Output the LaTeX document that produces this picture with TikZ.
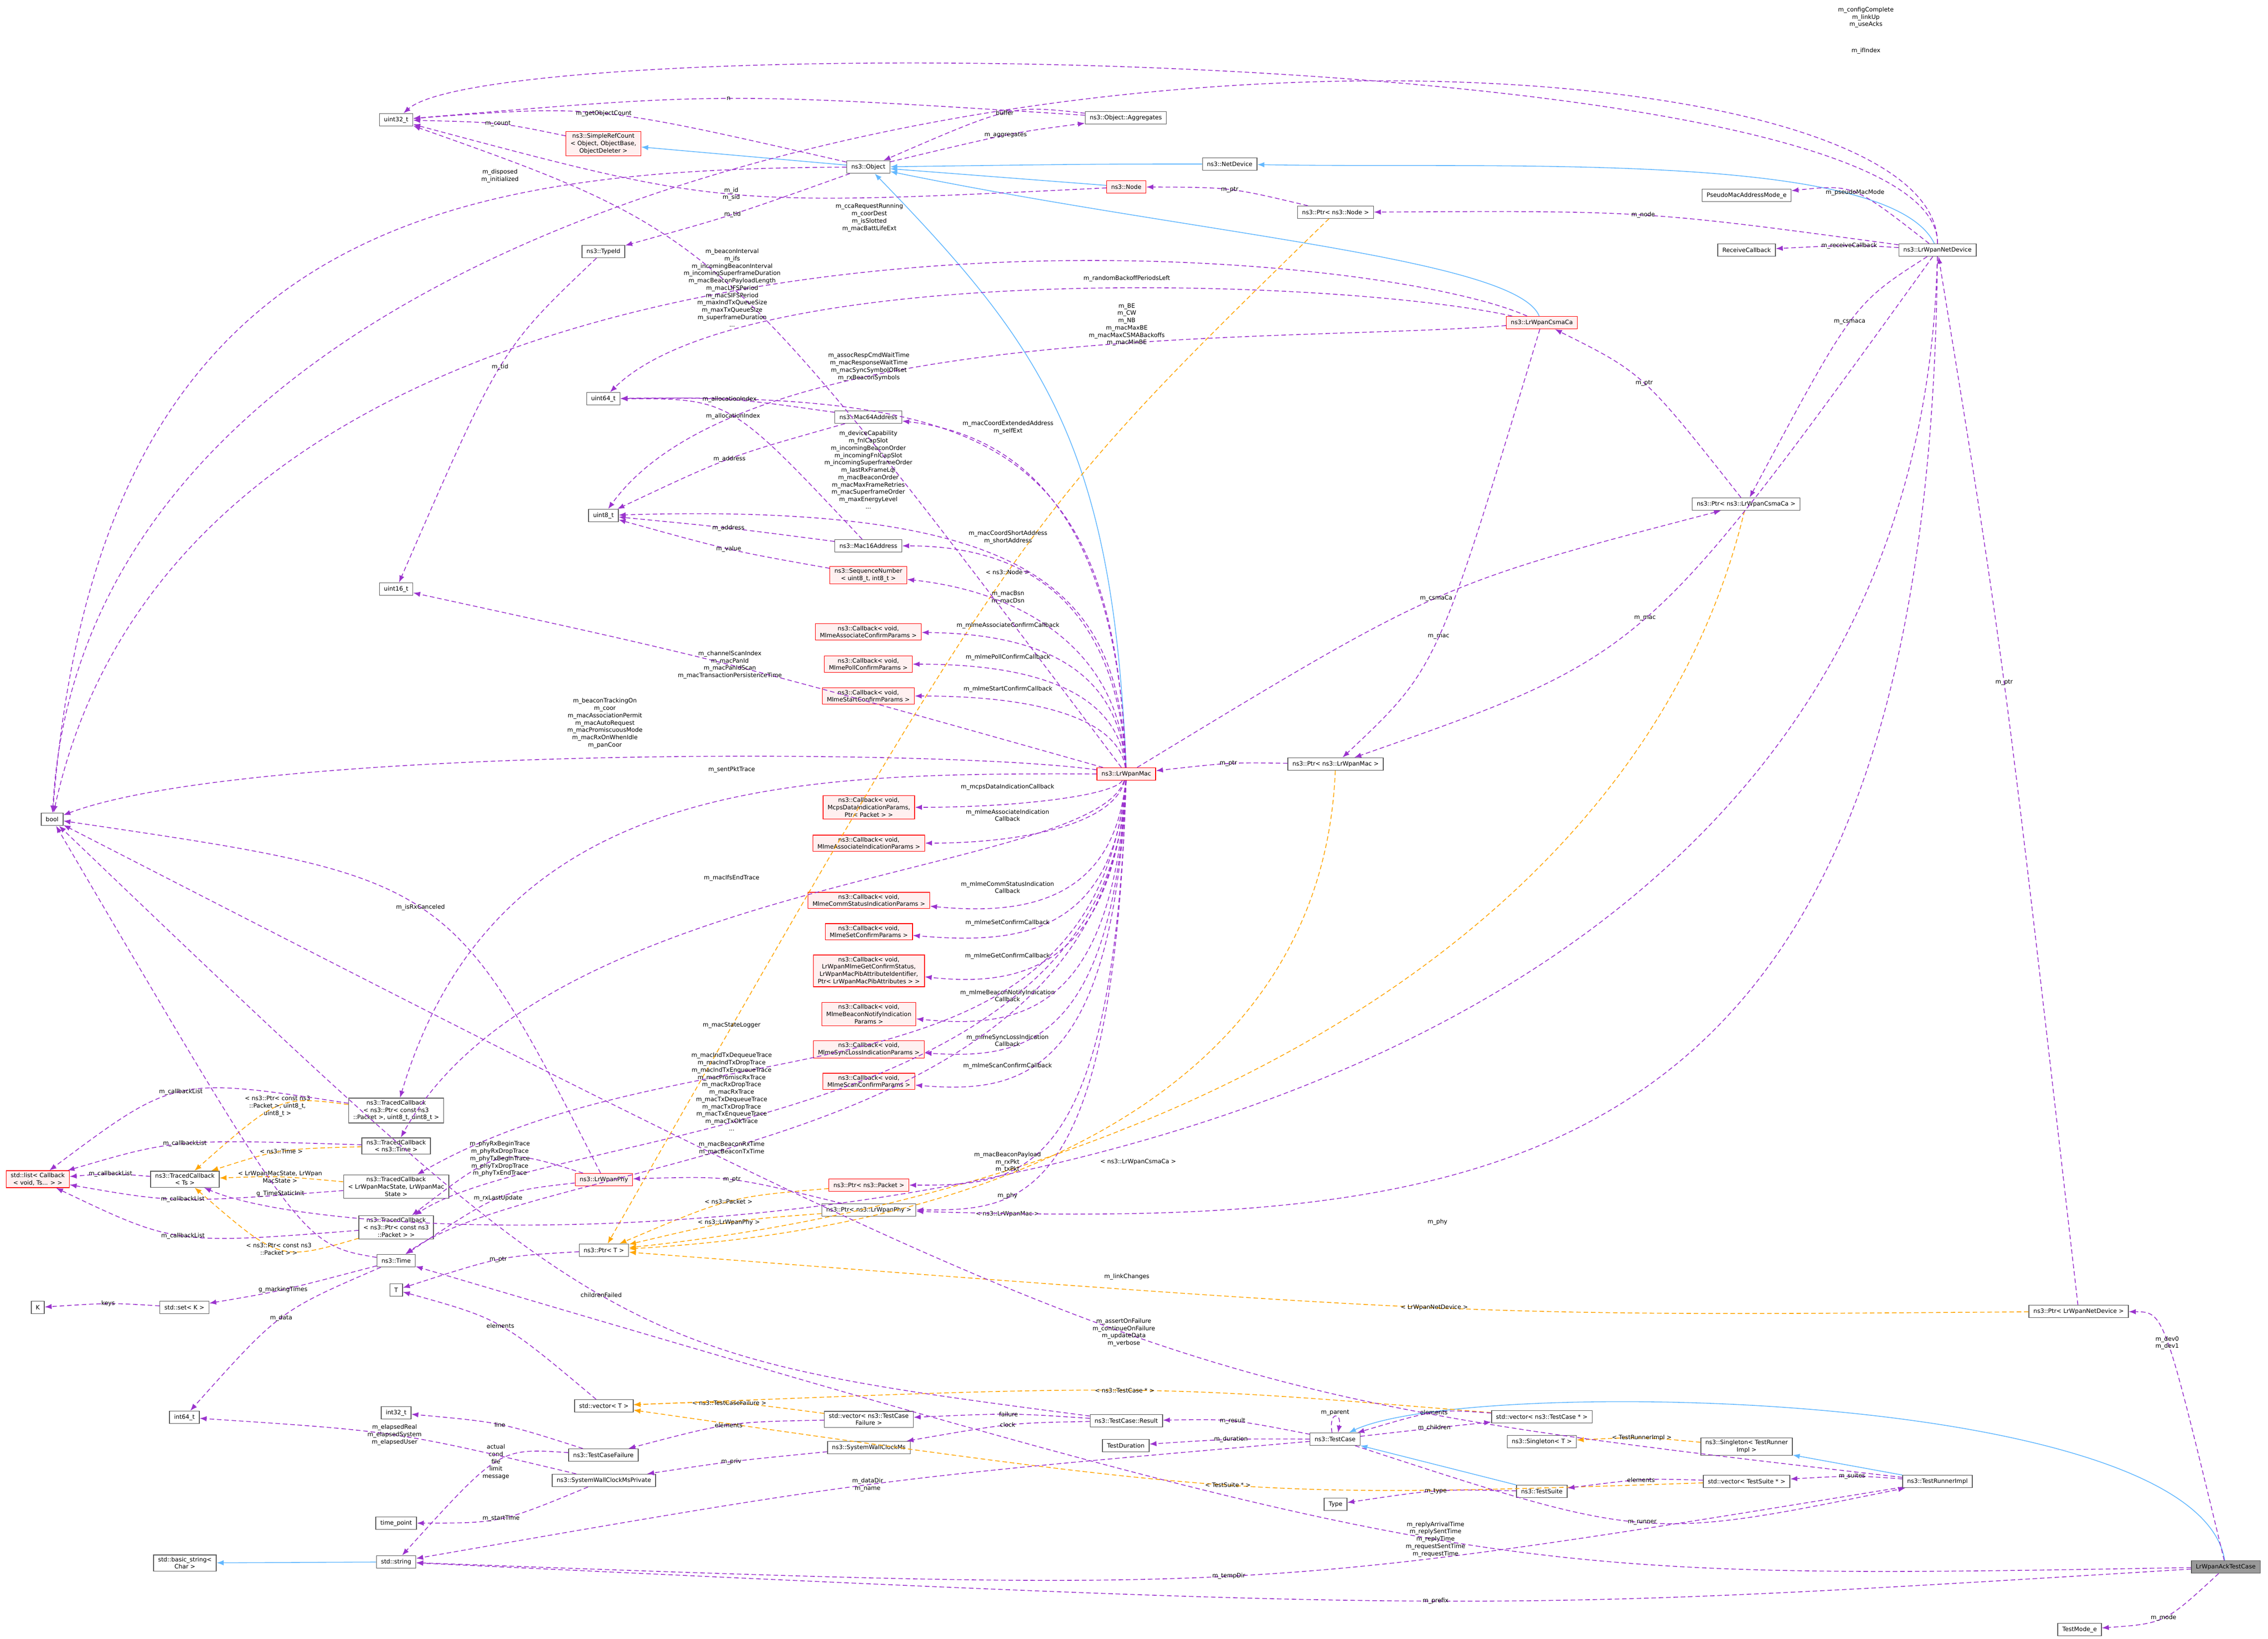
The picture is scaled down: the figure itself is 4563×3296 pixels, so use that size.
\documentclass[tikz,border=0pt]{standalone}
\usepackage{fontspec}
\setmainfont{DejaVu Sans}
\usetikzlibrary{arrows.meta,calc}
\definecolor{usecol}{HTML}{9A32CD}
\definecolor{tplcol}{HTML}{FFA500}
\definecolor{inhcol}{HTML}{63B8FF}
\definecolor{redfill}{HTML}{FFF0F0}
\newcommand\fsz{\fontsize{3.4}{4.2}\selectfont}
% member link: from, to, label centre, label
\newcommand\lnk[5][use]{\draw[#1] (#2) .. controls ($1.33333*(#4)-0.16667*(#2)-0.16667*(#3)$) .. node[lbl]{#5} (#3);}
% routed link: from, to, control 1, control 2, label centre, label
\newcommand\lnkc[7][use]{\draw[#1] (#2) .. controls (#4) and (#5) .. (#3) node[lbl,at={(#6)}]{#7};}
\begin{document}
\begin{tikzpicture}[x=0.01cm,y=-0.01cm,
  cls/.style={draw=black!65,fill=white,font=\fsz,inner xsep=2.6pt,inner ysep=1.2pt,minimum height=0.25cm,align=center,line width=0.4pt},
  clsR/.style={cls,draw=red,fill=redfill},
  clsS/.style={cls,fill=black!40},
  lbl/.style={font=\fsz,align=center,inner sep=0.4pt,text=black},
  use/.style={draw=usecol,line width=0.45pt,dash pattern=on 2.6pt off 1.6pt,-{Latex[length=4pt,width=3pt]}},
  tpl/.style={use,draw=tplcol},
  inh/.style={draw=inhcol,line width=0.45pt,-{Latex[length=4pt,width=3pt]}}]
\useasboundingbox (0,0) rectangle (4563,3296);

% top part
\node[cls] (u32) at (797,241) {uint32\_t};
\node[clsR] (src) at (1214,289) {ns3::SimpleRefCount\\< Object, ObjectBase,\\ObjectDeleter >};
\node[cls] (obj) at (1747,336) {ns3::Object};
\node[cls] (aggr) at (2265,237) {ns3::Object::Aggregates};
\node[clsR] (node) at (2266,376) {ns3::Node};
\node[cls] (netdev) at (2474,330) {ns3::NetDevice};
\node[cls] (typeid) at (1214,506) {ns3::TypeId};
\node[cls] (pnode) at (2687,427) {ns3::Ptr< ns3::Node >};
\node[cls] (pseudo) at (3514,393) {PseudoMacAddressMode\_e};
\node[cls] (rcvcb) at (3514,503) {ReceiveCallback};
\node[cls] (lrnd) at (3898,503) {ns3::LrWpanNetDevice};
\node[clsR] (csma) at (3102,649) {ns3::LrWpanCsmaCa};
\node[cls] (u64) at (1214,802) {uint64\_t};
\node[cls] (m64) at (1747,839) {ns3::Mac64Address};
\node[cls] (u8) at (1214,1037) {uint8\_t};
\node[cls] (m16) at (1747,1098) {ns3::Mac16Address};
\node[clsR] (seqn) at (1747,1157) {ns3::SequenceNumber\\< uint8\_t, int8\_t >};
\node[cls] (u16) at (797,1185) {uint16\_t};
\node[cls] (pcsma) at (3513,1014) {ns3::Ptr< ns3::LrWpanCsmaCa >};
\node[cls] (pmac) at (2687,1537) {ns3::Ptr< ns3::LrWpanMac >};
\node[clsR] (mac) at (2266,1557) {ns3::LrWpanMac};
\node[cls] (bool) at (105,1648) {bool};

% callbacks of the mac
\node[clsR] (cbAssocConf) at (1747,1271) {ns3::Callback< void,\\ MlmeAssociateConfirmParams >};
\node[clsR] (cbPoll) at (1747,1336) {ns3::Callback< void,\\ MlmePollConfirmParams >};
\node[clsR] (cbStart) at (1747,1400) {ns3::Callback< void,\\ MlmeStartConfirmParams >};
\node[clsR] (cbMcps) at (1748,1624) {ns3::Callback< void,\\ McpsDataIndicationParams,\\ Ptr< Packet > >};
\node[clsR] (cbAssocInd) at (1748,1696) {ns3::Callback< void,\\ MlmeAssociateIndicationParams >};
\node[clsR] (cbComm) at (1748,1811) {ns3::Callback< void,\\ MlmeCommStatusIndicationParams >};
\node[clsR] (cbSet) at (1748,1874) {ns3::Callback< void,\\ MlmeSetConfirmParams >};
\node[clsR] (cbGet) at (1748,1953) {ns3::Callback< void,\\ LrWpanMlmeGetConfirmStatus,\\ LrWpanMacPibAttributeIdentifier,\\ Ptr< LrWpanMacPibAttributes > >};
\node[clsR] (cbBeacon) at (1748,2040) {ns3::Callback< void,\\ MlmeBeaconNotifyIndication\\ Params >};
\node[clsR] (cbSync) at (1748,2111) {ns3::Callback< void,\\ MlmeSyncLossIndicationParams >};
\node[clsR] (cbScan) at (1748,2175) {ns3::Callback< void,\\ MlmeScanConfirmParams >};
\node[clsR] (ppkt) at (1748,2384) {ns3::Ptr< ns3::Packet >};
\node[cls] (pphy) at (1748,2434) {ns3::Ptr< ns3::LrWpanPhy >};
\node[clsR] (phy) at (1215,2373) {ns3::LrWpanPhy};

% traced callbacks and time
\node[clsR] (cblist) at (76,2372) {std::list< Callback\\< void, Ts... > >};
\node[cls] (tcTs) at (372,2372) {ns3::TracedCallback\\< Ts >};
\node[cls] (tcPkt3) at (797,2234) {ns3::TracedCallback\\< ns3::Ptr< const ns3\\::Packet >, uint8\_t, uint8\_t >};
\node[cls] (tcTime) at (797,2305) {ns3::TracedCallback\\< ns3::Time >};
\node[cls] (tcState) at (797,2387) {ns3::TracedCallback\\< LrWpanMacState, LrWpanMac\\State >};
\node[cls] (tcPkt) at (797,2469) {ns3::TracedCallback\\< ns3::Ptr< const ns3\\::Packet > >};
\node[cls] (time) at (797,2536) {ns3::Time};
\node[cls] (ptrT) at (1215,2515) {ns3::Ptr< T >};
\node[cls] (T) at (797,2595) {T};
\node[cls] (K) at (76,2630) {K};
\node[cls] (setK) at (371,2630) {std::set< K >};
\node[cls] (i64) at (371,2851) {int64\_t};
\node[cls] (i32) at (797,2842) {int32\_t};
\node[cls] (vecT) at (1215,2828) {std::vector< T >};
\node[cls] (tcf) at (1214,2927) {ns3::TestCaseFailure};
\node[cls] (swcmp) at (1215,2978) {ns3::SystemWallClockMsPrivate};
\node[cls] (tpoint) at (797,3064) {time\_point};
\node[cls] (bstr) at (372,3144) {std::basic\_string<\\Char >};
\node[cls] (str) at (797,3142) {std::string};

% test framework
\node[cls] (vecTcf) at (1748,2855) {std::vector< ns3::TestCase\\Failure >};
\node[cls] (swcm) at (1748,2912) {ns3::SystemWallClockMs};
\node[cls] (result) at (2266,2858) {ns3::TestCase::Result};
\node[cls] (tdur) at (2265,2908) {TestDuration};
\node[cls] (tc) at (2686,2895) {ns3::TestCase};
\node[cls] (type) at (2687,3026) {Type};
\node[cls] (vecTc) at (3102,2850) {std::vector< ns3::TestCase * >};
\node[cls] (sglT) at (3102,2900) {ns3::Singleton< T >};
\node[cls] (suite) at (3102,3000) {ns3::TestSuite};
\node[cls] (sglR) at (3514,2910) {ns3::Singleton< TestRunner\\Impl >};
\node[cls] (vecTs) at (3514,2980) {std::vector< TestSuite * >};
\node[cls] (runner) at (3898,2980) {ns3::TestRunnerImpl};
\node[cls] (pnd) at (4182,2638) {ns3::Ptr< LrWpanNetDevice >};
\node[clsS] (ack) at (4478,3152) {LrWpanAckTestCase};
\node[cls] (tmode) at (4184,3278) {TestMode\_e};

% inheritance
\draw[inh] (obj) -- (src);
\draw[inh] (netdev) .. controls (2200,330) .. (obj);
\draw[inh] (node) -- (obj);
\draw[inh] (csma) .. controls (3050,520) and (2400,470) .. (obj);
\draw[inh] (mac) .. controls (2240,900) and (2100,700) .. (obj);
\draw[inh] (lrnd) .. controls (3800,300) and (3000,340) .. (netdev);
\draw[inh] (str) -- (bstr);
\draw[inh] (suite) -- (tc);
\draw[inh] (ack) .. controls (4420,2790) and (2950,2770) .. (tc);
\draw[inh] (runner) -- (sglR);

% templates
\lnk[tpl]{pnode}{ptrT}{2028,1151}{< ns3::Node >}
\lnk[tpl]{ppkt}{ptrT}{1472,2418}{< ns3::Packet >}
\lnk[tpl]{pphy}{ptrT}{1472,2460}{< ns3::LrWpanPhy >}
\lnkc[tpl]{pmac}{ptrT}{2660,2200}{2000,2470}{2027,2442}{< ns3::LrWpanMac >}
\lnkc[tpl]{pcsma}{ptrT}{3300,1900}{2300,2400}{2290,2337}{< ns3::LrWpanCsmaCa >}
\lnk[tpl]{pnd}{ptrT}{2892,2630}{< LrWpanNetDevice >}
\lnk[tpl]{tcPkt3}{tcTs}{568,2229}{< ns3::Ptr< const ns3\\::Packet >, uint8\_t,\\uint8\_t >}
\lnk[tpl]{tcTime}{tcTs}{568,2318}{< ns3::Time >}
\lnk[tpl]{tcState}{tcTs}{568,2369}{< LrWpanMacState, LrWpan\\MacState >}
\lnk[tpl]{tcPkt}{tcTs}{568,2508}{< ns3::Ptr< const ns3\\::Packet > >}
\lnk[tpl]{vecTcf}{vecT}{1471,2824}{< ns3::TestCaseFailure >}
\lnk[tpl]{vecTc}{vecT}{2268,2798}{< ns3::TestCase * >}
\lnk[tpl]{vecTs}{vecT}{2474,2986}{< TestSuite * >}
\lnk[tpl]{sglR}{sglT}{3306,2894}{< TestRunnerImpl >}

% members: object side
\lnk{src}{u32}{1007,251}{m\_count}
\lnk{obj}{u32}{1216,230}{m\_getObjectCount}
\lnk{aggr}{u32}{1472,199}{n}
\lnk{aggr}{obj}{2028,230}{buffer}
\lnk{obj}{aggr}{2028,272}{m\_aggregates}
\lnkc{obj}{bool}{900,340}{200,450}{1006,354}{m\_disposed\\m\_initialized}
\lnk{node}{u32}{1472,389}{m\_id\\m\_sid}
\lnk{obj}{typeid}{1473,431}{m\_tid}
\lnk{typeid}{u16}{1007,738}{m\_tid}
\lnk{pnode}{node}{2476,383}{m\_ptr}

% members: csma and net device
\lnkc{csma}{bool}{2700,470}{400,300}{1749,438}{m\_ccaRequestRunning\\m\_coorDest\\m\_isSlotted\\m\_macBattLifeExt}
\lnkc{csma}{u64}{2700,560}{1500,520}{2267,560}{m\_randomBackoffPeriodsLeft}
\lnkc{csma}{u8}{2600,690}{1500,640}{2267,653}{m\_BE\\m\_CW\\m\_NB\\m\_macMaxBE\\m\_macMaxCSMABackoffs\\m\_macMinBE}
\lnk{csma}{pmac}{2893,1281}{m\_mac}
\lnk{pcsma}{csma}{3306,771}{m\_ptr}
\lnk{pmac}{mac}{2476,1537}{m\_ptr}
\lnk{lrnd}{pseudo}{3723,390}{m\_pseudoMacMode}
\lnk{lrnd}{rcvcb}{3723,495}{m\_receiveCallback}
\lnk{lrnd}{pnode}{3306,434}{m\_node}
\lnk{lrnd}{pcsma}{3723,648}{m\_csmaca}
\lnk{lrnd}{pmac}{3306,1244}{m\_mac}
\lnkc{lrnd}{pphy}{3880,2400}{3000,2470}{2892,2458}{m\_phy}
\lnkc{lrnd}{u32}{3900,80}{1000,60}{3754,102}{m\_ifIndex}
\lnkc{lrnd}{bool}{3900,-60}{200,-60}{3754,35}{m\_configComplete\\m\_linkUp\\m\_useAcks}
\lnkc{lrnd}{tcTs}{3850,2600}{800,2560}{2267,2568}{m\_linkChanges}
\lnk{pnd}{lrnd}{4032,1373}{m\_ptr}

% members: mac
\lnk{mac}{u32}{1470,579}{m\_beaconInterval\\m\_ifs\\m\_incomingBeaconInterval\\m\_incomingSuperframeDuration\\m\_macBeaconPayloadLength\\m\_macLIFSPeriod\\m\_macSIFSPeriod\\m\_maxIndTxQueueSize\\m\_maxTxQueueSize\\m\_superframeDuration\\...}
\lnkc{mac}{u64}{2240,900}{2000,790}{1748,738}{m\_assocRespCmdWaitTime\\m\_macResponseWaitTime\\m\_macSyncSymbolOffset\\m\_rxBeaconSymbols}
\lnk{m64}{u64}{1472,805}{m\_allocationIndex}
\lnk{m16}{u64}{1472,839}{m\_allocationIndex}
\lnk{m64}{u8}{1470,923}{m\_address}
\lnkc{mac}{m64}{2250,1100}{2100,880}{2028,860}{m\_macCoordExtendedAddress\\m\_selfExt}
\lnkc{mac}{u8}{2250,1200}{2100,1010}{1747,945}{m\_deviceCapability\\m\_fnlCapSlot\\m\_incomingBeaconOrder\\m\_incomingFnlCapSlot\\m\_incomingSuperframeOrder\\m\_lastRxFrameLqi\\m\_macBeaconOrder\\m\_macMaxFrameRetries\\m\_macSuperframeOrder\\m\_maxEnergyLevel\\...}
\lnk{m16}{u8}{1470,1063}{m\_address}
\lnk{seqn}{u8}{1472,1105}{m\_value}
\lnkc{mac}{m16}{2250,1250}{2100,1098}{2028,1081}{m\_macCoordShortAddress\\m\_shortAddress}
\lnkc{mac}{seqn}{2250,1300}{2050,1190}{2028,1202}{m\_macBsn\\m\_macDsn}
\lnkc{mac}{cbAssocConf}{2250,1350}{2100,1275}{2028,1258}{m\_mlmeAssociateConfirmCallback}
\lnkc{mac}{cbPoll}{2250,1400}{2100,1336}{2028,1322}{m\_mlmePollConfirmCallback}
\lnkc{mac}{cbStart}{2250,1450}{2100,1400}{2028,1386}{m\_mlmeStartConfirmCallback}
\lnk{mac}{u16}{1470,1338}{m\_channelScanIndex\\m\_macPanId\\m\_macPanIdScan\\m\_macTransactionPersistenceTime}
\lnkc{mac}{bool}{1900,1505}{500,1500}{1217,1455}{m\_beaconTrackingOn\\m\_coor\\m\_macAssociationPermit\\m\_macAutoRequest\\m\_macPromiscuousMode\\m\_macRxOnWhenIdle\\m\_panCoor}
\lnkc{mac}{tcPkt3}{1600,1555}{1000,1560}{1472,1548}{m\_sentPktTrace}
\lnkc{mac}{cbMcps}{2240,1600}{2050,1624}{2027,1583}{m\_mcpsDataIndicationCallback}
\lnkc{mac}{cbAssocInd}{2240,1660}{2050,1696}{2027,1640}{m\_mlmeAssociateIndication\\Callback}
\lnkc{mac}{tcTime}{2200,1760}{1100,1760}{1472,1766}{m\_macIfsEndTrace}
\lnkc{mac}{cbComm}{2240,1820}{2050,1840}{2027,1785}{m\_mlmeCommStatusIndication\\Callback}
\lnkc{mac}{cbSet}{2240,1880}{2050,1900}{2027,1856}{m\_mlmeSetConfirmCallback}
\lnkc{mac}{cbGet}{2240,1950}{2050,1985}{2027,1923}{m\_mlmeGetConfirmCallback}
\lnkc{mac}{cbBeacon}{2240,2040}{2050,2070}{2027,2003}{m\_mlmeBeaconNotifyIndication\\Callback}
\lnkc{mac}{tcState}{2200,2260}{1400,2040}{1472,2062}{m\_macStateLogger}
\lnkc{mac}{cbSync}{2240,2110}{2050,2130}{2027,2093}{m\_mlmeSyncLossIndication\\Callback}
\lnkc{mac}{cbScan}{2240,2170}{2050,2200}{2027,2144}{m\_mlmeScanConfirmCallback}
\lnkc{mac}{tcPkt}{2240,2280}{1100,2270}{1472,2196}{m\_macIndTxDequeueTrace\\m\_macIndTxDropTrace\\m\_macIndTxEnqueueTrace\\m\_macPromiscRxTrace\\m\_macRxDropTrace\\m\_macRxTrace\\m\_macTxDequeueTrace\\m\_macTxDropTrace\\m\_macTxEnqueueTrace\\m\_macTxOkTrace\\...}
\lnkc{mac}{time}{2230,2330}{1100,2320}{1472,2310}{m\_macBeaconRxTime\\m\_macBeaconTxTime}
\lnkc{mac}{ppkt}{2240,2384}{2050,2384}{2027,2338}{m\_macBeaconPayload\\m\_rxPkt\\m\_txPkt}
\lnkc{mac}{pphy}{2240,2434}{2050,2434}{2027,2405}{m\_phy}
\lnk{mac}{pcsma}{2893,1203}{m\_csmaCa}

% members: phy, traced callbacks, time
\lnk{pphy}{phy}{1472,2375}{m\_ptr}
\lnk{phy}{tcPkt}{1007,2336}{m\_phyRxBeginTrace\\m\_phyRxDropTrace\\m\_phyTxBeginTrace\\m\_phyTxDropTrace\\m\_phyTxEndTrace}
\lnk{phy}{time}{1007,2411}{m\_rxLastUpdate}
\lnk{phy}{bool}{844,1827}{m\_isRxCanceled}
\lnk{tcPkt3}{cblist}{373,2200}{m\_callbackList}
\lnk{tcTime}{cblist}{373,2303}{m\_callbackList}
\lnk{tcTs}{cblist}{223,2363}{m\_callbackList}
\lnk{tcState}{cblist}{373,2410}{m\_callbackList}
\lnk{tcPkt}{cblist}{373,2483}{m\_callbackList}
\lnk{time}{bool}{568,2401}{g\_TimeStaticInit}
\lnk{time}{setK}{568,2594}{g\_markingTimes}
\lnk{setK}{K}{222,2623}{keys}
\lnk{time}{i64}{568,2651}{m\_data}
\lnk{ptrT}{T}{1007,2534}{m\_ptr}
\lnk{vecT}{T}{1007,2668}{elements}

% members: test framework
\lnk{tcf}{i32}{1007,2867}{line}
\lnk{tcf}{str}{1005,2943}{actual\\cond\\file\\limit\\message}
\lnk{swcmp}{i64}{797,2888}{m\_elapsedReal\\m\_elapsedSystem\\m\_elapsedUser}
\lnk{swcmp}{tpoint}{1007,3053}{m\_startTime}
\lnk{swcm}{swcmp}{1471,2941}{m\_priv}
\lnk{vecTcf}{tcf}{1471,2868}{elements}
\lnk{result}{vecTcf}{2027,2846}{failure}
\lnk{result}{swcm}{2027,2868}{clock}
\lnk{result}{bool}{1217,2605}{childrenFailed}
\lnk{tc}{result}{2477,2860}{m\_result}
\lnk{tc}{tdur}{2477,2896}{m\_duration}
\draw[use] (tc.115) to[out=100,in=80,looseness=9] node[lbl,above]{m\_parent} (tc.65);
\lnk{tc}{vecTc}{2892,2872}{m\_children}
\lnk{vecTc}{tc}{2892,2844}{elements}
\lnk{tc}{str}{1747,2987}{m\_dataDir\\m\_name}
\lnk{tc}{runner}{3307,3059}{m\_runner}
\lnk{suite}{type}{2892,3000}{m\_type}
\lnk{vecTs}{suite}{3306,2978}{elements}
\lnk{runner}{vecTs}{3724,2971}{m\_suites}
\lnk{runner}{bool}{2267,2680}{m\_assertOnFailure\\m\_continueOnFailure\\m\_updateData\\m\_verbose}
\lnk{runner}{str}{2476,3169}{m\_tempDir}
\lnk{ack}{str}{2892,3220}{m\_prefix}
\lnk{ack}{time}{2892,3095}{m\_replyArrivalTime\\m\_replySentTime\\m\_replyTime\\m\_requestSentTime\\m\_requestTime}
\lnk{ack}{pnd}{4348,2703}{m\_dev0\\m\_dev1}
\lnk{ack}{tmode}{4349,3253}{m\_mode}
\end{tikzpicture}
\end{document}
